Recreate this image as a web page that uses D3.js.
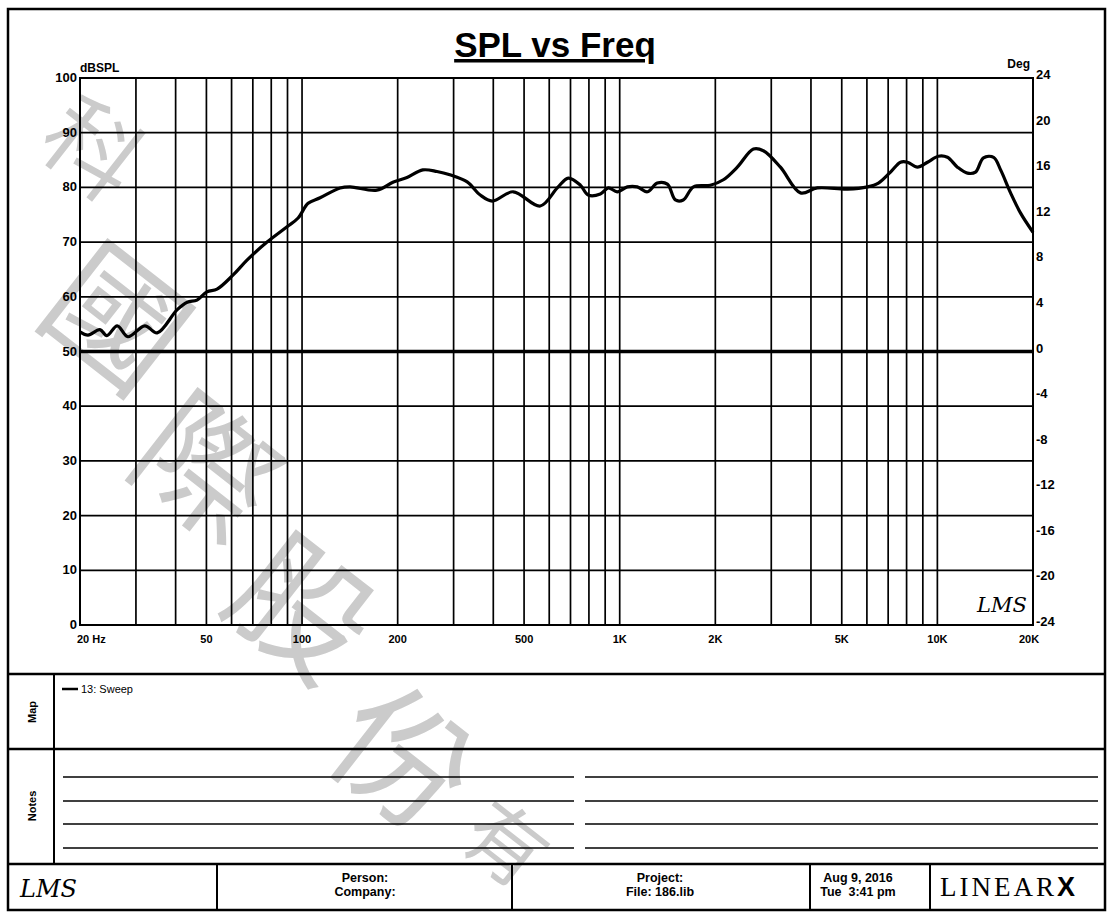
<html>
<head>
  <title>SPL vs Freq</title>
  <script src="https://d3js.org/d3.v7.min.js"></script>
  <style>
    body { margin: 0; background: #fff; }
    text { font-family: "Liberation Sans", Arial, sans-serif; }
  </style>
</head>
<body>
<div id="chart"></div>
<script type="text/javascript">

// frequency response (Hz, dBSPL)
var freqs = [20, 21.2, 23.1, 24.3, 26.2, 28.3, 32, 35, 40.4, 43.5, 46.7, 50.2, 54, 60.7, 67.1, 77.6, 89.7, 97.2,
  104.5, 114, 131.8, 141.7, 172, 194, 214, 240, 266, 292, 331, 364, 397, 462, 562, 636, 689, 752, 796, 869, 921, 982,
  1057, 1136, 1222, 1313, 1413, 1497, 1585, 1707, 1929, 2120, 2345, 2636, 2833, 3206, 3708, 4191, 5212, 6026, 6524,
  7119, 7655, 8052, 8651, 9309, 10075, 10757, 11566, 12436, 13185, 13967, 15032, 15817, 17000, 18280, 20000];
var spl = [53.6, 53.0, 54.0, 52.9, 54.7, 52.7, 54.7, 53.4, 57.6, 59.0, 59.4, 60.9, 61.4, 64.0, 66.7, 70.0, 72.8, 74.4,
  77.1, 78.1, 79.9, 80.1, 79.5, 81.0, 81.8, 83.2, 82.9, 82.3, 81.0, 78.6, 77.5, 79.2, 76.6, 79.9, 81.7, 80.4, 78.6, 78.8, 79.9, 79.2,
  80.1, 80.1, 79.2, 80.8, 80.6, 77.7, 77.7, 80.1, 80.4, 81.4, 83.7, 87.0, 86.7, 83.7, 79.0, 79.9, 79.7, 80.1, 80.8,
  82.8, 84.6, 84.6, 83.7, 84.6, 85.7, 85.5, 83.7, 82.6, 82.8, 85.4, 85.5, 83.2, 79.0, 75.3, 71.8];

// axes
var gridFreqs = [30, 40, 50, 60, 70, 80, 90, 100, 200, 300, 400, 500, 600, 700, 800, 900,
  1000, 2000, 3000, 4000, 5000, 6000, 7000, 8000, 9000, 10000];
var freqTicks = [50, 100, 200, 500, 1000, 2000, 5000, 10000, 20000];
var freqLabels = ["50", "100", "200", "500", "1K", "2K", "5K", "10K", "20K"];
var dbTicks = [0, 10, 20, 30, 40, 50, 60, 70, 80, 90, 100];
var degTicks = [-24, -20, -16, -12, -8, -4, 0, 4, 8, 12, 16, 20, 24];

// footer / notes
var footerCells = [
  {x: 365, lines: ["Person:", "Company:"]},
  {x: 660, lines: ["Project:", "File: 186.lib"]},
  {x: 858, lines: ["Aug 9, 2016", "Tue  3:41 pm"]}
];
var watermark = ["科", "國", "際", "股", "份", "有"];

var W = 1107, H = 913;
var plot = {left: 80, right: 1033, top: 78, bottom: 625};

var svg = d3.select("#chart").append("svg")
    .attr("width", W)
    .attr("height", H);

var x = d3.scaleLog().domain([20, 20000]).range([plot.left, plot.right]);
var y = d3.scaleLinear().domain([0, 100]).range([plot.bottom, plot.top]);
var y2 = d3.scaleLinear().domain([-24, 24]).range([plot.bottom, plot.top]);

// watermark underneath everything
var wmPos = [[92, 150], [115, 320], [205, 470], [300, 610], [402, 760], [505, 845]];
var wmSize = [95, 135, 135, 135, 135, 80];
svg.append("g").selectAll("text")
    .data(watermark)
    .enter()
    .append("text")
    .attr("transform", function(d, i) {
        return "translate(" + wmPos[i][0] + "," + wmPos[i][1] + ") rotate(38)";
    })
    .attr("text-anchor", "middle")
    .attr("dy", "0.35em")
    .style("font-family", "'Noto Sans CJK TC', 'Noto Sans CJK SC', sans-serif")
    .style("font-size", function(d, i) { return wmSize[i] + "px"; })
    .style("font-weight", "normal")
    .attr("fill", "#cbcbcb")
    .text(function(d) { return d; });

// outer frame
svg.append("rect")
    .attr("x", 8).attr("y", 9)
    .attr("width", 1097).attr("height", 901)
    .attr("fill", "none")
    .attr("stroke", "#000")
    .attr("stroke-width", 2.5);

// title
svg.append("text")
    .attr("x", 555).attr("y", 57)
    .attr("text-anchor", "middle")
    .style("font-size", "35px")
    .style("font-weight", "bold")
    .style("text-decoration", "underline")
    .text("SPL vs Freq");

svg.append("text")
    .attr("x", 80).attr("y", 72)
    .style("font-size", "12px").style("font-weight", "bold")
    .text("dBSPL");

svg.append("text")
    .attr("x", 1030).attr("y", 68)
    .attr("text-anchor", "end")
    .style("font-size", "12px").style("font-weight", "bold")
    .text("Deg");

// grid
var grid = svg.append("g").attr("stroke", "#000");

grid.selectAll(".vgrid")
    .data(gridFreqs)
    .enter()
    .append("line")
    .attr("x1", function(d) { return x(d); })
    .attr("x2", function(d) { return x(d); })
    .attr("y1", plot.top)
    .attr("y2", plot.bottom)
    .attr("stroke-width", 1.7);

grid.selectAll(".hgrid")
    .data(dbTicks.slice(1, -1))
    .enter()
    .append("line")
    .attr("x1", plot.left)
    .attr("x2", plot.right)
    .attr("y1", function(d) { return y(d); })
    .attr("y2", function(d) { return y(d); })
    .attr("stroke-width", 1.7);

// phase trace sits flat at 0 deg
svg.append("line")
    .attr("x1", plot.left).attr("x2", plot.right)
    .attr("y1", y2(0)).attr("y2", y2(0))
    .attr("stroke", "#000")
    .attr("stroke-width", 3.5);

svg.append("rect")
    .attr("x", plot.left).attr("y", plot.top)
    .attr("width", plot.right - plot.left)
    .attr("height", plot.bottom - plot.top)
    .attr("fill", "none")
    .attr("stroke", "#000")
    .attr("stroke-width", 2);

// left axis labels
svg.append("g").selectAll("text")
    .data(dbTicks)
    .enter()
    .append("text")
    .attr("x", plot.left - 3)
    .attr("y", function(d) { return y(d) + 4; })
    .attr("text-anchor", "end")
    .style("font-size", "13px").style("font-weight", "bold")
    .text(function(d) { return d; });

// right axis labels
svg.append("g").selectAll("text")
    .data(degTicks)
    .enter()
    .append("text")
    .attr("x", plot.right + 3)
    .attr("y", function(d) { return y2(d) + 1; })
    .style("font-size", "13px").style("font-weight", "bold")
    .text(function(d) { return d; });

// bottom axis labels
svg.append("text")
    .attr("x", 77).attr("y", 643)
    .style("font-size", "11px").style("font-weight", "bold")
    .text("20  Hz");

svg.append("g").selectAll("text")
    .data(freqTicks)
    .enter()
    .append("text")
    .attr("x", function(d) { return x(d) + (d == 20000 ? -4 : 0); })
    .attr("y", 643)
    .attr("text-anchor", "middle")
    .style("font-size", "11px").style("font-weight", "bold")
    .text(function(d, i) { return freqLabels[i]; });

// SPL curve
var line = d3.line()
    .x(function(d) { return x(d[0]); })
    .y(function(d) { return y(d[1]); })
    .curve(d3.curveCatmullRom);

svg.append("path")
    .datum(d3.zip(freqs, spl))
    .attr("d", line)
    .attr("fill", "none")
    .attr("stroke", "#000")
    .attr("stroke-width", 3.2)
    .attr("stroke-linejoin", "round");

// LMS mark inside plot
svg.append("text")
    .attr("x", 977).attr("y", 612)
    .style("font-family", "'DejaVu Serif', serif")
    .style("font-style", "italic")
    .style("font-size", "21px")
    .text("LMS");

// map / notes sections
var frame = svg.append("g").attr("stroke", "#000");
frame.append("line").attr("x1", 8).attr("x2", 1105).attr("y1", 674).attr("y2", 674).attr("stroke-width", 2.5);
frame.append("line").attr("x1", 8).attr("x2", 1105).attr("y1", 749).attr("y2", 749).attr("stroke-width", 2.5);
frame.append("line").attr("x1", 8).attr("x2", 1105).attr("y1", 864).attr("y2", 864).attr("stroke-width", 2.5);
frame.append("line").attr("x1", 54).attr("x2", 54).attr("y1", 674).attr("y2", 864).attr("stroke-width", 2);

svg.append("text")
    .attr("transform", "translate(36,712) rotate(-90)")
    .attr("text-anchor", "middle")
    .style("font-size", "11px").style("font-weight", "bold")
    .text("Map");

svg.append("text")
    .attr("transform", "translate(36,806) rotate(-90)")
    .attr("text-anchor", "middle")
    .style("font-size", "11px").style("font-weight", "bold")
    .text("Notes");

// legend
svg.append("line")
    .attr("x1", 62).attr("x2", 78)
    .attr("y1", 689).attr("y2", 689)
    .attr("stroke", "#000").attr("stroke-width", 2.5);
svg.append("text")
    .attr("x", 81).attr("y", 693)
    .style("font-size", "11px")
    .text("13: Sweep");

// note lines
var noteY = [777, 801, 824, 848];
var notes = svg.append("g").attr("stroke", "#000").attr("stroke-width", 1.6);
noteY.forEach(function(ny) {
    notes.append("line").attr("x1", 63).attr("x2", 574).attr("y1", ny).attr("y2", ny);
    notes.append("line").attr("x1", 585).attr("x2", 1098).attr("y1", ny).attr("y2", ny);
});

// footer
[217, 512, 810, 930].forEach(function(fx) {
    frame.append("line").attr("x1", fx).attr("x2", fx).attr("y1", 864).attr("y2", 910).attr("stroke-width", 2);
});

footerCells.forEach(function(c) {
    c.lines.forEach(function(t, i) {
        svg.append("text")
            .attr("x", c.x).attr("y", 882 + i * 14)
            .attr("text-anchor", "middle")
            .style("font-size", "12.5px").style("font-weight", "bold")
            .attr("xml:space", "preserve")
            .text(t);
    });
});

svg.append("text")
    .attr("x", 20).attr("y", 897)
    .style("font-family", "'DejaVu Serif', serif")
    .style("font-style", "italic")
    .style("font-size", "24px")
    .text("LMS");

var logo = svg.append("text")
    .attr("x", 940).attr("y", 896)
    .style("font-family", "'Liberation Serif', serif")
    .style("font-size", "27px")
    .style("letter-spacing", "3px");
logo.append("tspan").text("LINEAR");
logo.append("tspan").style("font-family", "'Liberation Sans', sans-serif").style("font-weight", "bold").text("X");

</script>
</body>
</html>
